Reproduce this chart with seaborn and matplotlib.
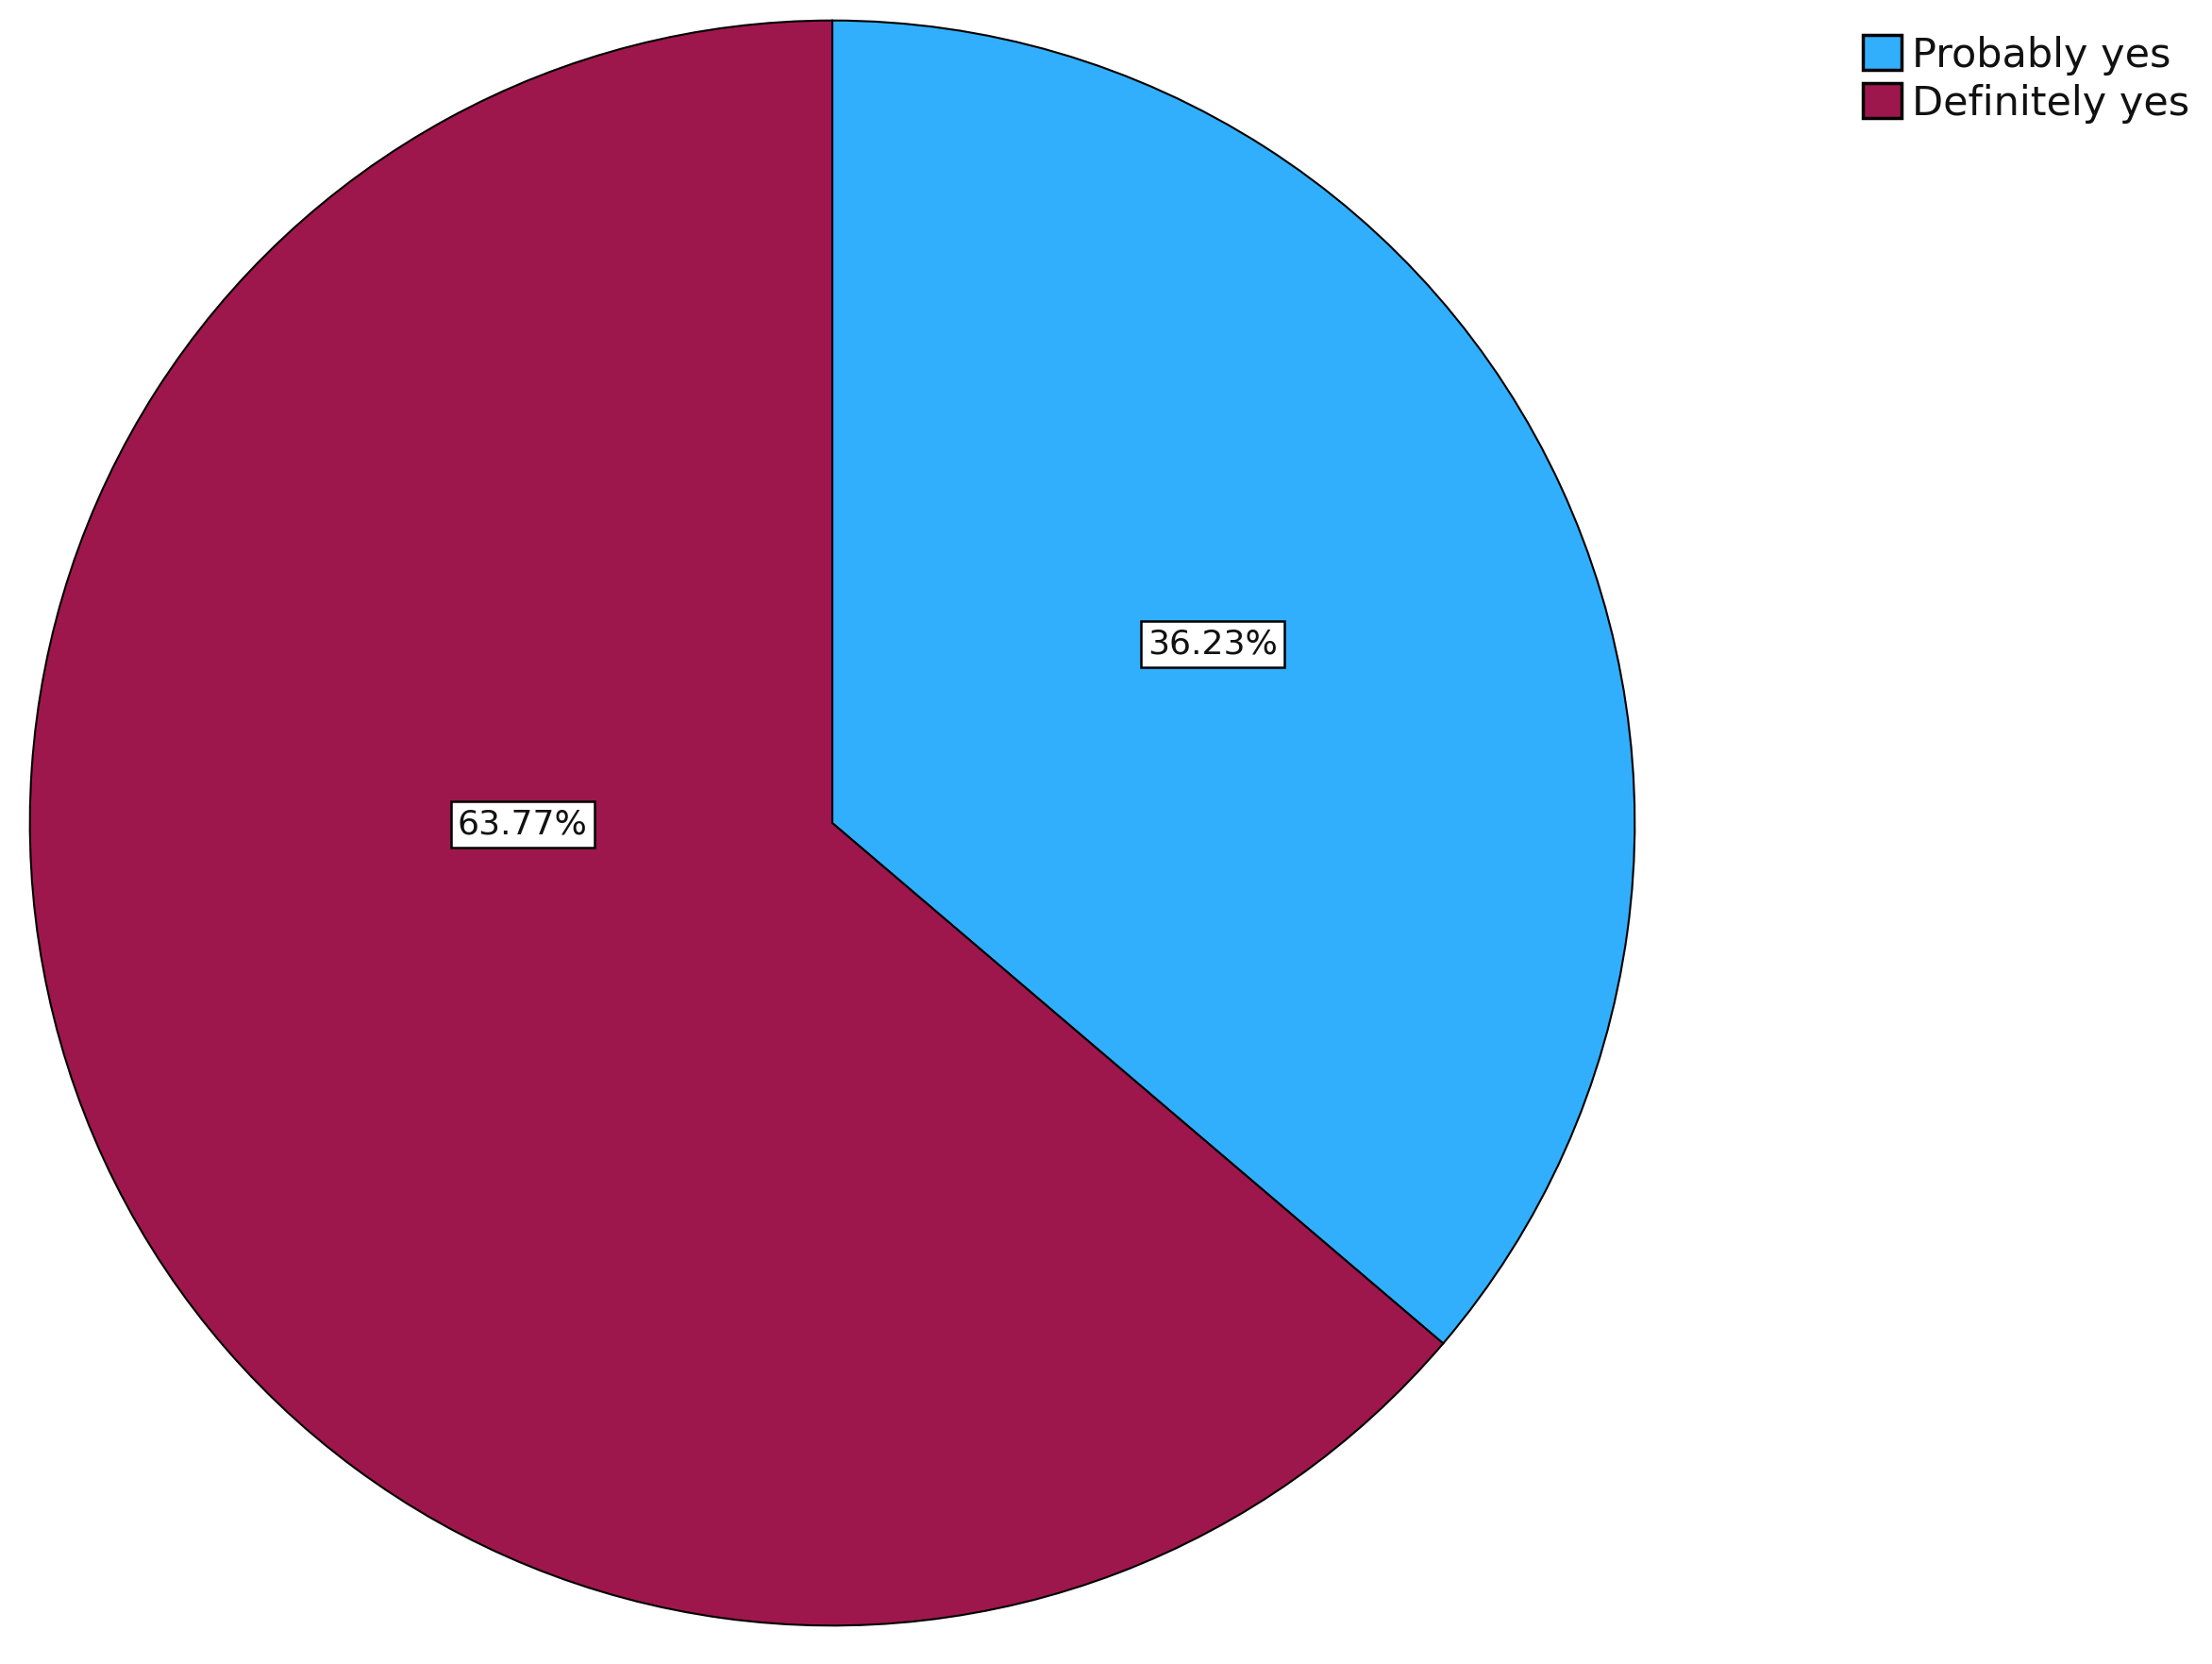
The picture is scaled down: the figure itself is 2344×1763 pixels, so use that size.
import matplotlib
matplotlib.use("Agg")
import matplotlib.pyplot as plt
import seaborn as sns

categories = ["Probably yes", "Definitely yes"]
percentages = [36.23, 63.77]
colors = ["#31AFFD", "#9E174C"]

sns.set_theme(style="white")
plt.rcParams['font.family'] = ['DejaVu Sans']

fig = plt.figure(figsize=(23.44, 17.63), dpi=100)
ax = fig.add_axes([30/2344, 39/1763, 1704/2344, 1704/1763])
palette = sns.color_palette(colors)
wedges, _ = ax.pie(percentages, colors=palette, startangle=90, counterclock=False,
                   radius=1.0, wedgeprops=dict(edgecolor="black", linewidth=1.5))
ax.set_xlim(-1.002, 1.002)
ax.set_ylim(-1.002, 1.002)
ax.set_aspect("equal")
ax.axis("off")

label_pos = [(0.474, 0.223), (-0.386, -0.002)]
for (x, y), p in zip(label_pos, percentages):
    ax.text(x, y, f"{p:.2f}%", ha="center", va="center", fontsize=26, color="#111111",
            bbox=dict(boxstyle="square,pad=0.2", facecolor="white", edgecolor="black", linewidth=1.8))

leg = fig.legend(wedges, categories, loc="upper left",
                 bbox_to_anchor=(1957/2344, 1 - 20/1763), frameon=False,
                 fontsize=31, handlelength=0.95, handleheight=0.95,
                 handletextpad=0.25, labelspacing=0.2, borderaxespad=0)
for t in leg.get_texts():
    t.set_color("#111111")
for h in leg.legend_handles:
    h.set_linewidth(2.5)

fig.savefig("out.png", dpi=100, facecolor="white")
